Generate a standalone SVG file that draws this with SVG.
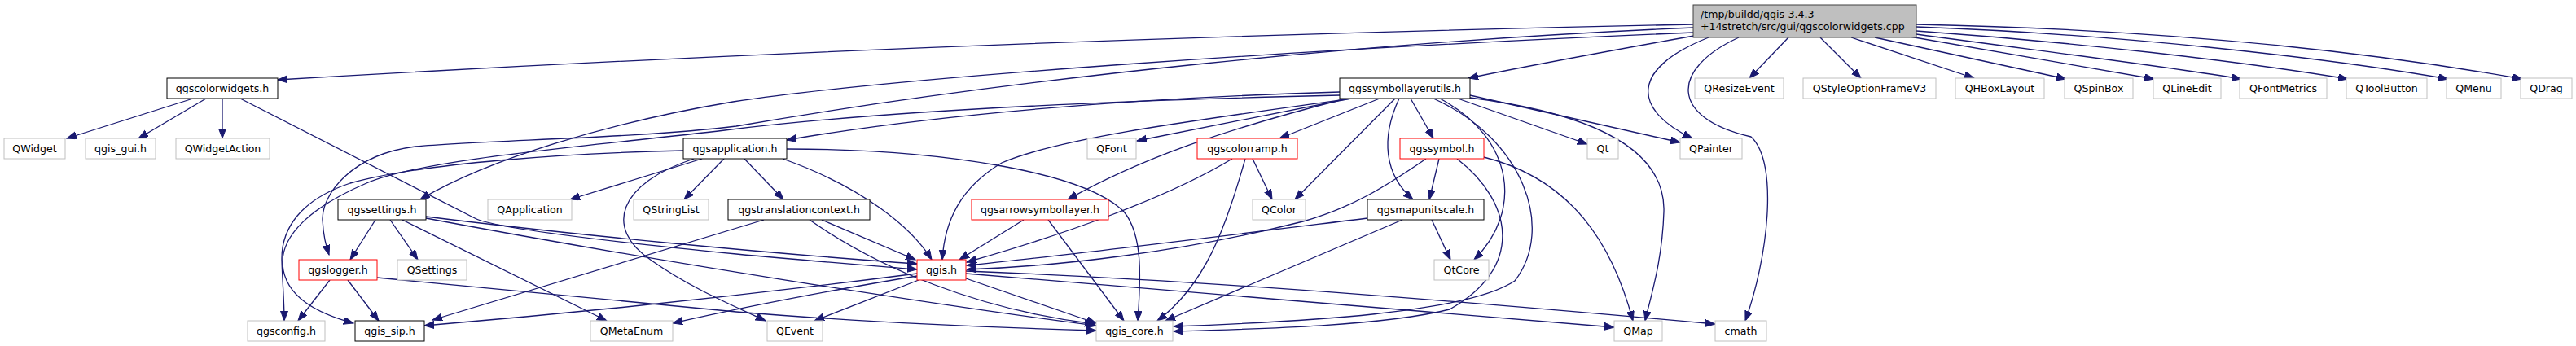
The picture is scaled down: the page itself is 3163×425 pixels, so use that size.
<svg xmlns="http://www.w3.org/2000/svg" width="3163" height="425" viewBox="0 0 3163 425">
<style>
.n rect{fill:#ffffff;stroke-width:1}
.g rect{stroke:#bfbfbf}
.b rect{stroke:#000000}
.r rect{stroke:#ff0000}
.m rect{fill:#bfbfbf;stroke:#404040}
text{font-family:"DejaVu Sans","Liberation Sans",sans-serif;font-size:12.6px;fill:#000000}
.n text{text-anchor:middle}
#edges path{fill:none;stroke:#191970;stroke-width:1.3;marker-end:url(#ah)}
</style>
<defs>
<marker id="ah" markerUnits="userSpaceOnUse" markerWidth="14" markerHeight="10" refX="12" refY="4.5" orient="auto">
<path d="M0,0 L12,4.5 L0,9 z" fill="#191970" stroke="#191970" stroke-width="1"/>
</marker>
</defs>
<rect width="3163" height="425" fill="#ffffff"/>
<g id="edges">
<path d="M2079,30 C1500,42 900,65 341,98"/>
<path d="M2080,44 C1990,60 1880,80 1803,96"/>
<path d="M2079,40 C1600,60 1100,95 900,125 C750,150 600,195 516,245"/>
<path d="M2079,34 C1700,50 1250,95 904,155 C780,170 600,172 510,180 C430,190 395,240 396,270 C397,290 400,300 404,313"/>
<path d="M2196,46 L2148,96"/>
<path d="M2235,46 L2285,96"/>
<path d="M2273,46 L2424,96"/>
<path d="M2302,46 L2537,97"/>
<path d="M2345,45 L2645,97"/>
<path d="M2353,42 C2500,62 2650,80 2752,97"/>
<path d="M2353,38 C2550,52 2750,75 2883,97"/>
<path d="M2353,33 C2600,42 2850,70 3006,97"/>
<path d="M2353,30 C2650,36 2900,62 3097,97"/>
<path d="M2098,46 C2000,85 2005,135 2078,170"/>
<path d="M2135,46 C2050,85 2050,145 2150,168 C2185,200 2170,320 2143,394"/>
<path d="M237,121 L82,170"/>
<path d="M253,121 L170,170"/>
<path d="M273,121 L273,170"/>
<path d="M295,121 L583,268 C600,277 700,292 904,312 C1000,321 1080,327 1126,331"/>
<path d="M461,270 L430,319"/>
<path d="M479,270 L513,319"/>
<path d="M494,270 L745,394"/>
<path d="M523,266 C700,288 950,312 1126,324"/>
<path d="M523,268 C800,320 1150,375 1346,400"/>
<path d="M405,344 L366,394"/>
<path d="M427,344 L465,394"/>
<path d="M463,341 L904,383 C1050,395 1200,402 1346,406"/>
<path d="M862,195 L700,245"/>
<path d="M889,195 L840,245"/>
<path d="M914,195 L962,245"/>
<path d="M961,195 C1060,230 1120,280 1144,319"/>
<path d="M966,183 C1150,183 1330,210 1380,260 C1405,290 1400,350 1397,394"/>
<path d="M852,195 C760,225 740,280 800,320 C850,355 900,375 940,394"/>
<path d="M839,185 C700,188 520,200 430,225 C370,245 345,280 346,320 C347,350 349,370 349,394"/>
<path d="M938,270 L531,393"/>
<path d="M994,270 C1080,330 1200,380 1344,398"/>
<path d="M1009,270 L1124,319"/>
<path d="M1126,336 C900,365 700,385 521,400"/>
<path d="M1126,339 C1000,360 900,380 826,397"/>
<path d="M1128,344 L1000,394"/>
<path d="M1186,342 L1346,397"/>
<path d="M1186,336 C1500,360 1800,385 1982,402"/>
<path d="M1186,333 C1500,345 1850,375 2106,398"/>
<path d="M1257,270 L1178,319"/>
<path d="M1287,270 L1380,394"/>
<path d="M1538,195 L1562,245"/>
<path d="M1529,195 C1505,280 1480,350 1421,394"/>
<path d="M1513,195 C1430,245 1300,290 1187,322"/>
<path d="M1694,121 L1571,170"/>
<path d="M1658,121 L1396,173"/>
<path d="M1713,121 L1590,245"/>
<path d="M1718,121 C1695,170 1700,215 1735,245"/>
<path d="M1732,121 L1760,170"/>
<path d="M1768,121 C1860,170 1870,260 1810,319"/>
<path d="M1760,121 C1870,170 1910,280 1860,345 C1800,385 1600,395 1441,401"/>
<path d="M1790,121 L1949,177"/>
<path d="M1805,117 L2063,175"/>
<path d="M1805,120 C1960,140 2045,185 2043,260 C2041,320 2028,360 2020,394"/>
<path d="M1645,113 C1400,120 1150,140 966,172"/>
<path d="M1660,121 C1450,150 1300,170 1230,200 C1180,230 1160,270 1157,319"/>
<path d="M1653,121 C1500,160 1400,195 1311,245"/>
<path d="M1645,117 C1300,125 1050,140 890,160 C720,180 520,195 450,225 C380,255 345,290 347,325 C350,365 390,385 434,397"/>
<path d="M1767,195 L1755,245"/>
<path d="M1751,195 C1700,230 1660,255 1600,272 C1450,310 1300,327 1187,331"/>
<path d="M1789,195 C1860,250 1870,330 1780,380 C1700,400 1550,404 1441,407"/>
<path d="M1822,193 C1930,220 1980,300 2005,394"/>
<path d="M1758,270 L1781,319"/>
<path d="M1679,268 C1500,290 1300,315 1187,326"/>
<path d="M1722,270 L1431,394"/>
</g>
<g id="n_main" class="n m"><rect x="2079" y="6" width="274" height="40"/><text x="2088" y="22" style="text-anchor:start">/tmp/buildd/qgis-3.4.3</text><text x="2088" y="36.5" style="text-anchor:start">+14stretch/src/gui/qgscolorwidgets.cpp</text></g>
<g id="n_qgscolorwidgets" class="n b"><rect x="205" y="96" width="136" height="25"/><text x="273" y="112.8">qgscolorwidgets.h</text></g>
<g id="n_QWidget" class="n g"><rect x="5" y="170" width="75" height="25"/><text x="42.5" y="186.8">QWidget</text></g>
<g id="n_qgis_gui" class="n g"><rect x="105" y="170" width="86" height="25"/><text x="148" y="186.8">qgis_gui.h</text></g>
<g id="n_QWidgetAction" class="n g"><rect x="216" y="170" width="115" height="25"/><text x="273.5" y="186.8">QWidgetAction</text></g>
<g id="n_qgssettings" class="n b"><rect x="415" y="245" width="108" height="25"/><text x="469" y="261.8">qgssettings.h</text></g>
<g id="n_qgslogger" class="n r"><rect x="367" y="319" width="96" height="25"/><text x="415" y="335.8">qgslogger.h</text></g>
<g id="n_QSettings" class="n g"><rect x="488" y="319" width="85" height="25"/><text x="530.5" y="335.8">QSettings</text></g>
<g id="n_qgsconfig" class="n g"><rect x="304" y="394" width="95" height="25"/><text x="351.5" y="410.8">qgsconfig.h</text></g>
<g id="n_qgis_sip" class="n b"><rect x="436" y="394" width="85" height="25"/><text x="478.5" y="410.8">qgis_sip.h</text></g>
<g id="n_QApplication" class="n g"><rect x="599" y="245" width="103" height="25"/><text x="650.5" y="261.8">QApplication</text></g>
<g id="n_QStringList" class="n g"><rect x="778" y="245" width="92" height="25"/><text x="824" y="261.8">QStringList</text></g>
<g id="n_qgsapplication" class="n b"><rect x="839" y="170" width="127" height="25"/><text x="902.5" y="186.8">qgsapplication.h</text></g>
<g id="n_QMetaEnum" class="n g"><rect x="725" y="394" width="101" height="25"/><text x="775.5" y="410.8">QMetaEnum</text></g>
<g id="n_qgstranslationcontext" class="n b"><rect x="894" y="245" width="174" height="25"/><text x="981" y="261.8">qgstranslationcontext.h</text></g>
<g id="n_qgis" class="n r"><rect x="1126" y="319" width="60" height="25"/><text x="1156" y="335.8">qgis.h</text></g>
<g id="n_QEvent" class="n g"><rect x="942" y="394" width="68" height="25"/><text x="976" y="410.8">QEvent</text></g>
<g id="n_qgsarrowsymbollayer" class="n r"><rect x="1193" y="245" width="168" height="25"/><text x="1277" y="261.8">qgsarrowsymbollayer.h</text></g>
<g id="n_QFont" class="n g"><rect x="1335" y="170" width="60" height="25"/><text x="1365" y="186.8">QFont</text></g>
<g id="n_qgis_core" class="n g"><rect x="1346" y="394" width="94" height="25"/><text x="1393" y="410.8">qgis_core.h</text></g>
<g id="n_qgssymbollayerutils" class="n b"><rect x="1645" y="96" width="160" height="25"/><text x="1725" y="112.8">qgssymbollayerutils.h</text></g>
<g id="n_qgscolorramp" class="n r"><rect x="1470" y="170" width="123" height="25"/><text x="1531.5" y="186.8">qgscolorramp.h</text></g>
<g id="n_QColor" class="n g"><rect x="1538" y="245" width="65" height="25"/><text x="1570.5" y="261.8">QColor</text></g>
<g id="n_qgssymbol" class="n r"><rect x="1719" y="170" width="103" height="25"/><text x="1770.5" y="186.8">qgssymbol.h</text></g>
<g id="n_qgsmapunitscale" class="n b"><rect x="1679" y="245" width="143" height="25"/><text x="1750.5" y="261.8">qgsmapunitscale.h</text></g>
<g id="n_QtCore" class="n g"><rect x="1761" y="319" width="67" height="25"/><text x="1794.5" y="335.8">QtCore</text></g>
<g id="n_Qt" class="n g"><rect x="1949" y="170" width="38" height="25"/><text x="1968" y="186.8">Qt</text></g>
<g id="n_QPainter" class="n g"><rect x="2063" y="170" width="76" height="25"/><text x="2101" y="186.8">QPainter</text></g>
<g id="n_QMap" class="n g"><rect x="1982" y="394" width="59" height="25"/><text x="2011.5" y="410.8">QMap</text></g>
<g id="n_cmath" class="n g"><rect x="2106" y="394" width="63" height="25"/><text x="2137.5" y="410.8">cmath</text></g>
<g id="n_QResizeEvent" class="n g"><rect x="2081" y="96" width="109" height="25"/><text x="2135.5" y="112.8">QResizeEvent</text></g>
<g id="n_QStyleOptionFrameV3" class="n g"><rect x="2214" y="96" width="163" height="25"/><text x="2295.5" y="112.8">QStyleOptionFrameV3</text></g>
<g id="n_QHBoxLayout" class="n g"><rect x="2401" y="96" width="109" height="25"/><text x="2455.5" y="112.8">QHBoxLayout</text></g>
<g id="n_QSpinBox" class="n g"><rect x="2535" y="96" width="84" height="25"/><text x="2577" y="112.8">QSpinBox</text></g>
<g id="n_QLineEdit" class="n g"><rect x="2644" y="96" width="83" height="25"/><text x="2685.5" y="112.8">QLineEdit</text></g>
<g id="n_QFontMetrics" class="n g"><rect x="2750" y="96" width="107" height="25"/><text x="2803.5" y="112.8">QFontMetrics</text></g>
<g id="n_QToolButton" class="n g"><rect x="2881" y="96" width="99" height="25"/><text x="2930.5" y="112.8">QToolButton</text></g>
<g id="n_QMenu" class="n g"><rect x="3004" y="96" width="67" height="25"/><text x="3037.5" y="112.8">QMenu</text></g>
<g id="n_QDrag" class="n g"><rect x="3095" y="96" width="63" height="25"/><text x="3126.5" y="112.8">QDrag</text></g>
</svg>
